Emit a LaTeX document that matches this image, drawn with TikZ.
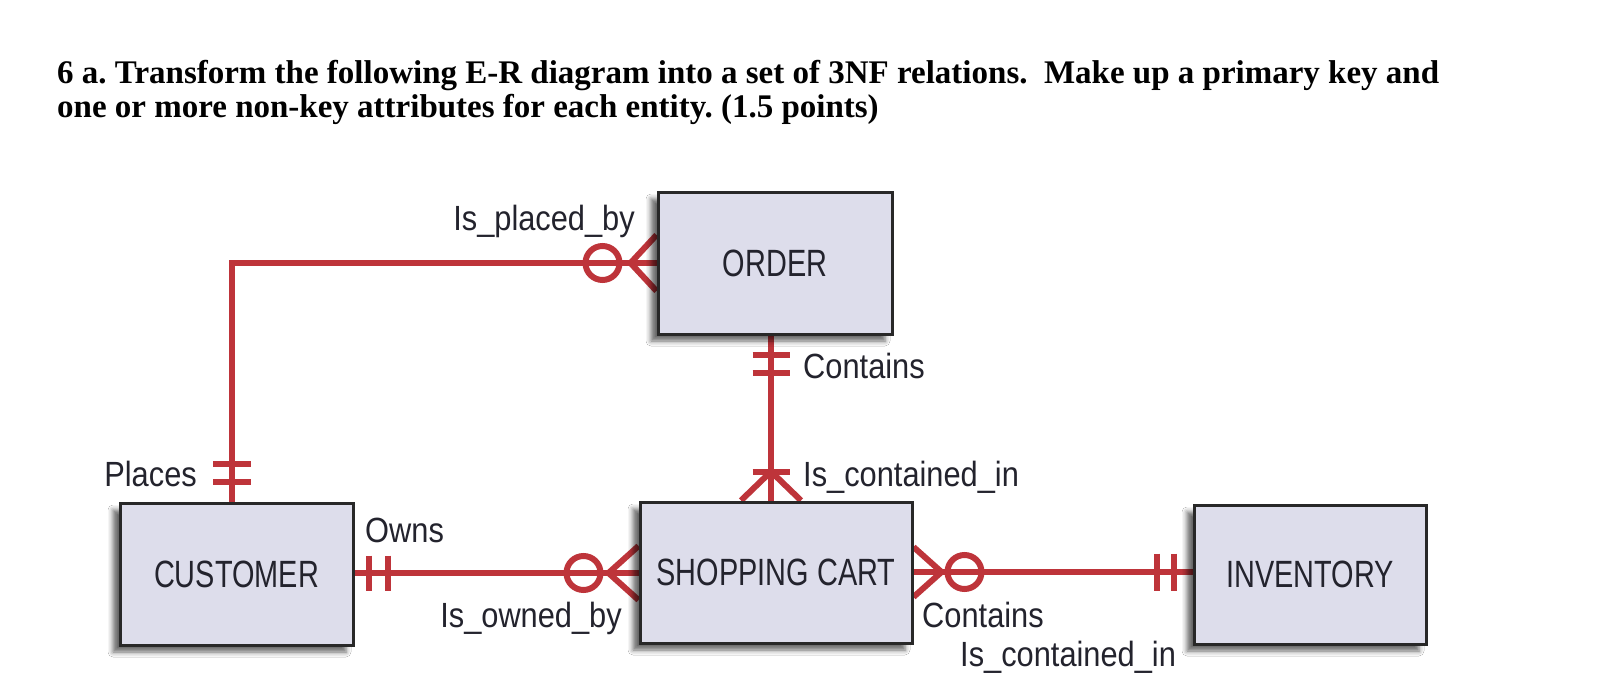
\documentclass[tikz,border=0pt]{standalone}
\usepackage{fontspec}
\setmainfont{Liberation Serif}
\newfontfamily\entfont[FakeStretch=0.76]{Liberation Sans}
\newfontfamily\labfont[FakeStretch=0.88]{Liberation Sans}
\usetikzlibrary{calc,shadows.blur,backgrounds}
\definecolor{relred}{RGB}{190,52,58}
\definecolor{entfill}{RGB}{221,221,235}
\definecolor{entline}{RGB}{40,40,40}
\definecolor{txt}{RGB}{35,35,45}
\frenchspacing
\begin{document}
\begin{tikzpicture}[x=1pt,y=-1pt,
  entity/.style={draw=entline, line width=3pt, fill=entfill, inner sep=0pt,
    font=\entfont\fontsize{38}{40}\selectfont, text=txt,
    blur shadow={shadow xshift=-7pt, shadow yshift=-7pt, shadow blur radius=5pt, shadow opacity=60}},
  lab/.style={font=\labfont\fontsize{35}{38}\selectfont, text=txt, inner sep=0pt},
  rel/.style={draw=relred, line width=6pt},
  titletext/.style={font=\bfseries\fontsize{33}{36}\selectfont, inner sep=0pt, anchor=base west}]
\useasboundingbox (0,0) rectangle (1618,696);

% title
\node[titletext] (t1) at (57,83) {6 a. Transform the following E-R diagram into a set of 3NF relations.\ \ Make up a primary key and};
\node[titletext] (t2) at (57,117) {one or more non-key attributes for each entity. (1.5 points)};

% entities
\node[entity, minimum width=234pt, minimum height=142pt] (order) at (775,263) {ORDER};
\node[entity, minimum width=272pt, minimum height=141pt] (cart) at (776,572.5) {SHOPPING CART};
\node[entity, minimum width=233pt, minimum height=142pt] (cust) at (236.5,574) {CUSTOMER};
\node[entity, minimum width=232pt, minimum height=139pt] (inv) at (1310,574.5) {INVENTORY};

\coordinate (bend) at (232,263);
\coordinate (vx) at (771,0);
\coordinate (hy) at (0,573);
\coordinate (hz) at (0,572);

\begin{scope}[on background layer]
\fill[white] (0,0) rectangle (1618,696);
% ORDER -- CUSTOMER
\draw[rel] (order.west) -- (bend) -- (bend |- cust.north);
\draw[rel] ($(order.west)+(-26,0)$) -- ($(order.west)+(0,-28)$);
\draw[rel] ($(order.west)+(-26,0)$) -- ($(order.west)+(0,28)$);
\draw[rel] ($(order.west)+(-54,0)$) circle[radius=17pt];
\draw[rel] ($(bend |- cust.north)+(-19,-38)$) -- +(38,0);
\draw[rel] ($(bend |- cust.north)+(-19,-20)$) -- +(38,0);

% ORDER -- SHOPPING CART
\draw[rel] (vx |- order.south) -- (vx |- cart.north);
\draw[rel] ($(vx |- order.south)+(-18.5,19)$) -- +(37,0);
\draw[rel] ($(vx |- order.south)+(-18.5,37)$) -- +(37,0);
\draw[rel] ($(vx |- cart.north)+(-18.5,-29)$) -- +(37,0);
\draw[rel] ($(vx |- cart.north)+(0,-29)$) -- ($(vx |- cart.north)+(-30,0)$);
\draw[rel] ($(vx |- cart.north)+(0,-29)$) -- ($(vx |- cart.north)+(30,0)$);

% CUSTOMER -- SHOPPING CART
\draw[rel] (cust.east |- hy) -- (cart.west |- hy);
\draw[rel] ($(cust.east |- hy)+(14,-17.5)$) -- +(0,35);
\draw[rel] ($(cust.east |- hy)+(33,-17.5)$) -- +(0,35);
\draw[rel] ($(cart.west |- hy)+(-55,0)$) circle[radius=17pt];
\draw[rel] ($(cart.west |- hy)+(-30,0)$) -- ($(cart.west |- hy)+(0,-27)$);
\draw[rel] ($(cart.west |- hy)+(-30,0)$) -- ($(cart.west |- hy)+(0,27)$);

% SHOPPING CART -- INVENTORY
\draw[rel] (cart.east |- hz) -- (inv.west |- hz);
\draw[rel] ($(cart.east |- hz)+(28,0)$) -- ($(cart.east |- hz)+(0,-25)$);
\draw[rel] ($(cart.east |- hz)+(28,0)$) -- ($(cart.east |- hz)+(0,25)$);
\draw[rel] ($(cart.east |- hz)+(51,0)$) circle[radius=17pt];
\draw[rel] ($(inv.west |- hz)+(-36,-18.5)$) -- +(0,37);
\draw[rel] ($(inv.west |- hz)+(-19,-18.5)$) -- +(0,37);
\end{scope}

% labels
\node[lab, anchor=base east] (lplaced) at (635,230) {Is\_placed\_by};
\node[lab, anchor=base west] (lcont1) at (803,378) {Contains};
\node[lab, anchor=base west] (lisc1) at (803,486) {Is\_contained\_in};
\node[lab, anchor=base east] (lplaces) at (197,486) {Places};
\node[lab, anchor=base west] (lowns) at (365,542) {Owns};
\node[lab, anchor=base east] (lowned) at (622,627) {Is\_owned\_by};
\node[lab, anchor=base west] (lcont2) at (922,627) {Contains};
\node[lab, anchor=base west] (lisc2) at (960,666) {Is\_contained\_in};
\end{tikzpicture}
\end{document}
